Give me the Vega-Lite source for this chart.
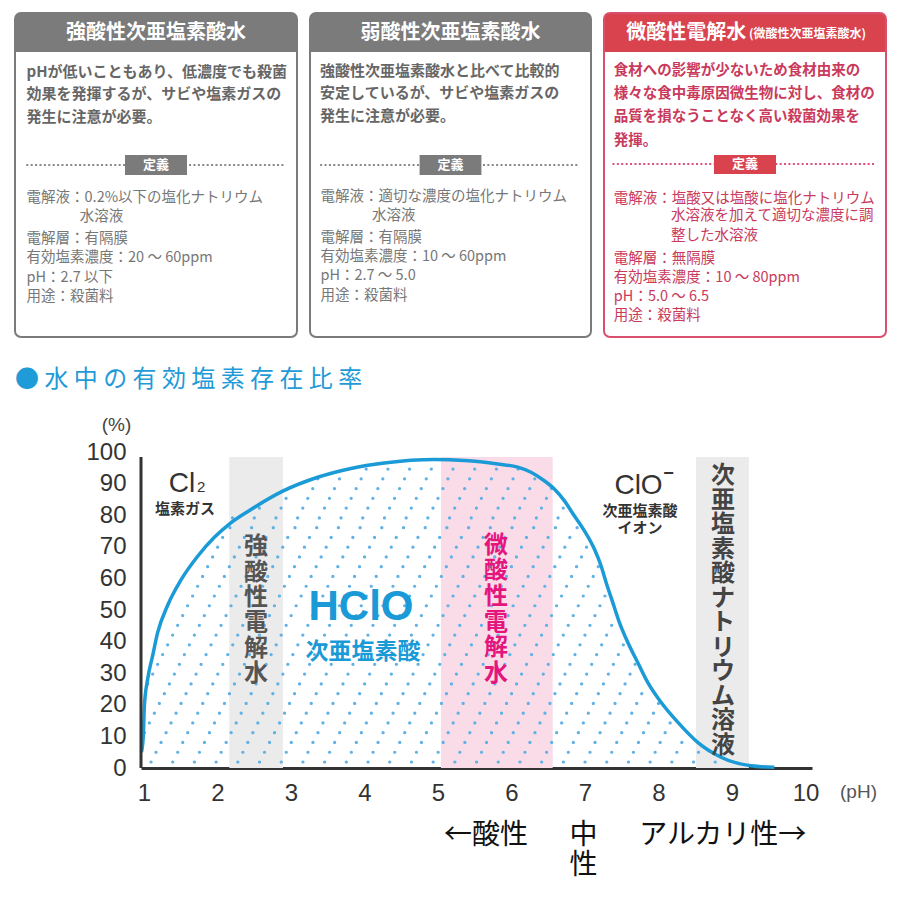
{
  "$schema": "https://vega.github.io/schema/vega-lite/v6.json",
  "padding": {"left": 14, "top": 12, "right": 0, "bottom": 0},
  "background": "white",
  "config": {"font": "Noto Sans CJK JP", "view": {"stroke": null}, "axis": {"grid": false, "labelOverlap": false, "labelFlush": false}, "axisY": {"labelOverlap": false}, "axisX": {"labelOverlap": false}},
  "datasets": {
    "boxtext": [
      {"box": 1, "part": "title", "text": "強酸性次亜塩素酸水"},
      {"box": 1, "part": "body", "text": "pHが低いこともあり、低濃度でも殺菌\n効果を発揮するが、サビや塩素ガスの\n発生に注意が必要。"},
      {"box": 1, "part": "tag", "text": "定義"},
      {"box": 1, "part": "def1", "text": "電解液：0.2%以下の塩化ナトリウム"},
      {"box": 1, "part": "cont", "text": "水溶液"},
      {"box": 1, "part": "def2", "text": "電解層：有隔膜\n有効塩素濃度：20 ～ 60ppm\npH：2.7 以下\n用途：殺菌料"},
      {"box": 2, "part": "title", "text": "弱酸性次亜塩素酸水"},
      {"box": 2, "part": "body", "text": "強酸性次亜塩素酸水と比べて比較的\n安定しているが、サビや塩素ガスの\n発生に注意が必要。"},
      {"box": 2, "part": "tag", "text": "定義"},
      {"box": 2, "part": "def1", "text": "電解液：適切な濃度の塩化ナトリウム"},
      {"box": 2, "part": "cont", "text": "水溶液"},
      {"box": 2, "part": "def2", "text": "電解層：有隔膜\n有効塩素濃度：10 ～ 60ppm\npH：2.7 ～ 5.0\n用途：殺菌料"},
      {"box": 3, "part": "title", "text": "微酸性電解水"},
      {"box": 3, "part": "subtitle", "text": "(微酸性次亜塩素酸水)"},
      {"box": 3, "part": "body", "text": "食材への影響が少ないため食材由来の\n様々な食中毒原因微生物に対し、食材の\n品質を損なうことなく高い殺菌効果を\n発揮。"},
      {"box": 3, "part": "tag", "text": "定義"},
      {"box": 3, "part": "def1", "text": "電解液：塩酸又は塩酸に塩化ナトリウム"},
      {"box": 3, "part": "cont", "text": "水溶液を加えて適切な濃度に調\n整した水溶液"},
      {"box": 3, "part": "def2", "text": "電解層：無隔膜\n有効塩素濃度：10 ～ 80ppm\npH：5.0 ～ 6.5\n用途：殺菌料"}
    ],
    "bands": [
      {"band": "強酸性電解水", "start": 2.16, "end": 2.89, "group": "gray"},
      {"band": "微酸性電解水", "start": 5.04, "end": 6.56, "group": "pink"},
      {"band": "次亜塩素酸ナトリウム溶液", "start": 8.51, "end": 9.23, "group": "gray"}
    ],
    "curve": [
      {"ph": 0.965, "pct": 5}, {"ph": 0.99, "pct": 10}, {"ph": 1.005, "pct": 19.7}, {"ph": 1.05, "pct": 28.2},
      {"ph": 1.117, "pct": 35.5}, {"ph": 1.186, "pct": 42.9}, {"ph": 1.322, "pct": 51.5}, {"ph": 1.503, "pct": 59.5},
      {"ph": 1.73, "pct": 67}, {"ph": 1.957, "pct": 73}, {"ph": 2.16, "pct": 77.2}, {"ph": 2.456, "pct": 81.8},
      {"ph": 2.887, "pct": 87.6}, {"ph": 3.363, "pct": 92}, {"ph": 3.816, "pct": 94.8}, {"ph": 4.27, "pct": 96.5},
      {"ph": 4.95, "pct": 97.6}, {"ph": 5.358, "pct": 97.3}, {"ph": 5.812, "pct": 96.2}, {"ph": 6.084, "pct": 95.2},
      {"ph": 6.265, "pct": 93.6}, {"ph": 6.446, "pct": 90.9}, {"ph": 6.582, "pct": 88.3}, {"ph": 6.718, "pct": 84.6},
      {"ph": 6.854, "pct": 79.8}, {"ph": 6.99, "pct": 75.1}, {"ph": 7.127, "pct": 69.3}, {"ph": 7.218, "pct": 64},
      {"ph": 7.286, "pct": 58.8}, {"ph": 7.377, "pct": 52.4}, {"ph": 7.467, "pct": 46.1}, {"ph": 7.581, "pct": 39.8},
      {"ph": 7.717, "pct": 33.4}, {"ph": 7.853, "pct": 27.1}, {"ph": 8.034, "pct": 20.8}, {"ph": 8.261, "pct": 14.5},
      {"ph": 8.533, "pct": 8.1}, {"ph": 8.85, "pct": 3.4}, {"ph": 9.259, "pct": 0.7}, {"ph": 9.576, "pct": 0.2}
    ],
    "dots": [
      {"level": 1.9, "from": 1.095, "to": 9.05},
      {"level": 4.99, "from": 1.163, "to": 8.71},
      {"level": 8.08, "from": 1.231, "to": 8.505},
      {"level": 11.17, "from": 1.004, "to": 8.37},
      {"level": 14.26, "from": 1.072, "to": 8.24},
      {"level": 17.35, "from": 1.14, "to": 8.128},
      {"level": 20.44, "from": 1.208, "to": 8.017},
      {"level": 23.53, "from": 1.276, "to": 7.926},
      {"level": 26.62, "from": 1.049, "to": 7.837},
      {"level": 29.71, "from": 1.117, "to": 7.767},
      {"level": 32.8, "from": 1.185, "to": 7.7},
      {"level": 35.89, "from": 1.253, "to": 7.634},
      {"level": 38.98, "from": 1.321, "to": 7.568},
      {"level": 42.07, "from": 1.389, "to": 7.51},
      {"level": 45.16, "from": 1.457, "to": 7.454},
      {"level": 48.25, "from": 1.525, "to": 7.406},
      {"level": 51.34, "from": 1.593, "to": 7.362},
      {"level": 54.43, "from": 1.661, "to": 7.318},
      {"level": 57.52, "from": 1.729, "to": 7.274},
      {"level": 60.61, "from": 1.797, "to": 7.232},
      {"level": 63.7, "from": 1.865, "to": 7.192},
      {"level": 66.79, "from": 1.933, "to": 7.14},
      {"level": 69.88, "from": 2.001, "to": 7.083},
      {"level": 72.97, "from": 2.069, "to": 7.01},
      {"level": 76.06, "from": 2.168, "to": 6.932},
      {"level": 79.15, "from": 2.204, "to": 6.843},
      {"level": 82.24, "from": 2.569, "to": 6.755},
      {"level": 85.33, "from": 2.932, "to": 6.661},
      {"level": 88.42, "from": 3.295, "to": 6.546},
      {"level": 91.51, "from": 3.363, "to": 6.375},
      {"level": 94.6, "from": 4.022, "to": 6.122}
    ],
    "labels": [
      {"role": "formula", "text": "Cl", "ph": 1.517, "pct": 89.9},
      {"role": "sub", "text": "2", "ph": 1.776, "pct": 88.8},
      {"role": "formula", "text": "ClO", "ph": 7.728, "pct": 89.3},
      {"role": "sup", "text": "−", "ph": 8.136, "pct": 93.0},
      {"role": "small", "text": "塩素ガス", "ph": 1.558, "pct": 82.0},
      {"role": "small", "text": "次亜塩素酸", "ph": 7.748, "pct": 81.4},
      {"role": "small", "text": "イオン", "ph": 7.748, "pct": 75.9},
      {"role": "vertical", "text": "強\n酸\n性\n電\n解\n水", "ph": 2.524, "pct": 69.9},
      {"role": "vlong", "text": "次\n亜\n塩\n素\n酸\nナ\nト\nリ\nウ\nム\n溶\n液", "ph": 8.878, "pct": 92.4},
      {"role": "pinkvert", "text": "微\n酸\n性\n電\n解\n水", "ph": 5.789, "pct": 70.3},
      {"role": "hclo", "text": "HClO", "ph": 3.952, "pct": 50.9},
      {"role": "hclojp", "text": "次亜塩素酸", "ph": 3.98, "pct": 36.7},
      {"role": "bottom", "text": "←酸性", "ph": 5.653, "pct": -21.5},
      {"role": "bottom", "text": "アルカリ性→", "ph": 8.873, "pct": -21.5},
      {"role": "bottomvert", "text": "中\n性", "ph": 6.98, "pct": -21.5}
    ]
  },
  "spacing": 30,
  "vconcat": [
    {
      "spacing": 11,
      "hconcat": [
        {
          "width": 282, "height": 324,
          "layer": [
            {"data": {"name": "boxtext"}, "transform": [{"filter": "datum.box == 1 && datum.part == 'title'"}],
             "mark": {"type": "rect", "color": "#7b7b7b", "cornerRadiusTopLeft": 6, "cornerRadiusTopRight": 6},
             "encoding": {"x": {"datum": 0, "type": "quantitative", "scale": {"domain": [0, 100], "nice": false, "zero": false}, "axis": null}, "x2": {"datum": 100},
                          "y": {"datum": 0, "type": "quantitative", "scale": {"domain": [0, 100], "nice": false, "zero": false, "reverse": true}, "axis": null}, "y2": {"datum": 12}}},
            {"data": {"name": "boxtext"}, "transform": [{"filter": "datum.box == 1 && datum.part == 'title'"}],
             "mark": {"type": "text", "color": "white", "fontSize": 20, "fontWeight": "bold", "align": "center", "baseline": "middle"},
             "encoding": {"x": {"datum": 50, "type": "quantitative"}, "y": {"datum": 6.2, "type": "quantitative"}, "text": {"field": "text"}}},
            {"data": {"name": "boxtext"}, "transform": [{"filter": "datum.box == 1 && datum.part == 'body'"}],
             "mark": {"type": "text", "color": "#666666", "fontSize": 15, "fontWeight": "bold", "align": "left", "baseline": "middle", "lineBreak": "\n", "lineHeight": 22.5},
             "encoding": {"x": {"datum": 4.1, "type": "quantitative"}, "y": {"datum": 18.2, "type": "quantitative"}, "text": {"field": "text"}}},
            {"data": {"name": "boxtext"}, "transform": [{"filter": "datum.box == 1 && datum.part == 'tag'"}],
             "mark": {"type": "rule", "color": "#888888", "strokeWidth": 2, "strokeDash": [2, 2.4]},
             "encoding": {"x": {"datum": 4, "type": "quantitative"}, "x2": {"datum": 96}, "y": {"datum": 46.9, "type": "quantitative"}}},
            {"data": {"name": "boxtext"}, "transform": [{"filter": "datum.box == 1 && datum.part == 'tag'"}],
             "mark": {"type": "rect", "color": "#7b7b7b"},
             "encoding": {"x": {"datum": 39, "type": "quantitative"}, "x2": {"datum": 61}, "y": {"datum": 43.8, "type": "quantitative"}, "y2": {"datum": 50}}},
            {"data": {"name": "boxtext"}, "transform": [{"filter": "datum.box == 1 && datum.part == 'tag'"}],
             "mark": {"type": "text", "color": "white", "fontSize": 13, "fontWeight": "bold", "align": "center", "baseline": "middle"},
             "encoding": {"x": {"datum": 50, "type": "quantitative"}, "y": {"datum": 46.9, "type": "quantitative"}, "text": {"field": "text"}}},
            {"data": {"name": "boxtext"}, "transform": [{"filter": "datum.box == 1 && datum.part == 'def1'"}],
             "mark": {"type": "text", "color": "#777777", "fontSize": 14.5, "align": "left", "baseline": "middle"},
             "encoding": {"x": {"datum": 4.1, "type": "quantitative"}, "y": {"datum": 57.1, "type": "quantitative"}, "text": {"field": "text"}}},
            {"data": {"name": "boxtext"}, "transform": [{"filter": "datum.box == 1 && datum.part == 'cont'"}],
             "mark": {"type": "text", "color": "#777777", "fontSize": 14.5, "align": "left", "baseline": "middle"},
             "encoding": {"x": {"datum": 23, "type": "quantitative"}, "y": {"datum": 63.0, "type": "quantitative"}, "text": {"field": "text"}}},
            {"data": {"name": "boxtext"}, "transform": [{"filter": "datum.box == 1 && datum.part == 'def2'"}],
             "mark": {"type": "text", "color": "#777777", "fontSize": 14.5, "align": "left", "baseline": "middle", "lineBreak": "\n", "lineHeight": 19.3},
             "encoding": {"x": {"datum": 4.1, "type": "quantitative"}, "y": {"datum": 69.8, "type": "quantitative"}, "text": {"field": "text"}}},
            {"data": {"name": "boxtext"}, "transform": [{"filter": "datum.box == 1 && datum.part == 'title'"}],
             "mark": {"type": "rect", "filled": false, "color": "#7b7b7b", "strokeWidth": 2, "cornerRadius": 6},
             "encoding": {"x": {"datum": 0, "type": "quantitative"}, "x2": {"datum": 100}, "y": {"datum": 0, "type": "quantitative"}, "y2": {"datum": 100}}}
          ]
        },
        {
          "width": 281, "height": 324,
          "layer": [
            {"data": {"name": "boxtext"}, "transform": [{"filter": "datum.box == 2 && datum.part == 'title'"}],
             "mark": {"type": "rect", "color": "#7b7b7b", "cornerRadiusTopLeft": 6, "cornerRadiusTopRight": 6},
             "encoding": {"x": {"datum": 0, "type": "quantitative", "scale": {"domain": [0, 100], "nice": false, "zero": false}, "axis": null}, "x2": {"datum": 100},
                          "y": {"datum": 0, "type": "quantitative", "scale": {"domain": [0, 100], "nice": false, "zero": false, "reverse": true}, "axis": null}, "y2": {"datum": 12}}},
            {"data": {"name": "boxtext"}, "transform": [{"filter": "datum.box == 2 && datum.part == 'title'"}],
             "mark": {"type": "text", "color": "white", "fontSize": 20, "fontWeight": "bold", "align": "center", "baseline": "middle"},
             "encoding": {"x": {"datum": 50, "type": "quantitative"}, "y": {"datum": 6.2, "type": "quantitative"}, "text": {"field": "text"}}},
            {"data": {"name": "boxtext"}, "transform": [{"filter": "datum.box == 2 && datum.part == 'body'"}],
             "mark": {"type": "text", "color": "#666666", "fontSize": 15, "fontWeight": "bold", "align": "left", "baseline": "middle", "lineBreak": "\n", "lineHeight": 22.5},
             "encoding": {"x": {"datum": 3.6, "type": "quantitative"}, "y": {"datum": 17.9, "type": "quantitative"}, "text": {"field": "text"}}},
            {"data": {"name": "boxtext"}, "transform": [{"filter": "datum.box == 2 && datum.part == 'tag'"}],
             "mark": {"type": "rule", "color": "#888888", "strokeWidth": 2, "strokeDash": [2, 2.4]},
             "encoding": {"x": {"datum": 3.6, "type": "quantitative"}, "x2": {"datum": 96}, "y": {"datum": 46.9, "type": "quantitative"}}},
            {"data": {"name": "boxtext"}, "transform": [{"filter": "datum.box == 2 && datum.part == 'tag'"}],
             "mark": {"type": "rect", "color": "#7b7b7b"},
             "encoding": {"x": {"datum": 39, "type": "quantitative"}, "x2": {"datum": 61}, "y": {"datum": 43.8, "type": "quantitative"}, "y2": {"datum": 50}}},
            {"data": {"name": "boxtext"}, "transform": [{"filter": "datum.box == 2 && datum.part == 'tag'"}],
             "mark": {"type": "text", "color": "white", "fontSize": 13, "fontWeight": "bold", "align": "center", "baseline": "middle"},
             "encoding": {"x": {"datum": 50, "type": "quantitative"}, "y": {"datum": 46.9, "type": "quantitative"}, "text": {"field": "text"}}},
            {"data": {"name": "boxtext"}, "transform": [{"filter": "datum.box == 2 && datum.part == 'def1'"}],
             "mark": {"type": "text", "color": "#777777", "fontSize": 14.5, "align": "left", "baseline": "middle"},
             "encoding": {"x": {"datum": 3.7, "type": "quantitative"}, "y": {"datum": 56.8, "type": "quantitative"}, "text": {"field": "text"}}},
            {"data": {"name": "boxtext"}, "transform": [{"filter": "datum.box == 2 && datum.part == 'cont'"}],
             "mark": {"type": "text", "color": "#777777", "fontSize": 14.5, "align": "left", "baseline": "middle"},
             "encoding": {"x": {"datum": 22.1, "type": "quantitative"}, "y": {"datum": 62.7, "type": "quantitative"}, "text": {"field": "text"}}},
            {"data": {"name": "boxtext"}, "transform": [{"filter": "datum.box == 2 && datum.part == 'def2'"}],
             "mark": {"type": "text", "color": "#777777", "fontSize": 14.5, "align": "left", "baseline": "middle", "lineBreak": "\n", "lineHeight": 19.3},
             "encoding": {"x": {"datum": 3.7, "type": "quantitative"}, "y": {"datum": 69.4, "type": "quantitative"}, "text": {"field": "text"}}},
            {"data": {"name": "boxtext"}, "transform": [{"filter": "datum.box == 2 && datum.part == 'title'"}],
             "mark": {"type": "rect", "filled": false, "color": "#7b7b7b", "strokeWidth": 2, "cornerRadius": 6},
             "encoding": {"x": {"datum": 0, "type": "quantitative"}, "x2": {"datum": 100}, "y": {"datum": 0, "type": "quantitative"}, "y2": {"datum": 100}}}
          ]
        },
        {
          "width": 282, "height": 324,
          "layer": [
            {"data": {"name": "boxtext"}, "transform": [{"filter": "datum.box == 3 && datum.part == 'title'"}],
             "mark": {"type": "rect", "color": "#d9434e", "cornerRadiusTopLeft": 6, "cornerRadiusTopRight": 6},
             "encoding": {"x": {"datum": 0, "type": "quantitative", "scale": {"domain": [0, 100], "nice": false, "zero": false}, "axis": null}, "x2": {"datum": 100},
                          "y": {"datum": 0, "type": "quantitative", "scale": {"domain": [0, 100], "nice": false, "zero": false, "reverse": true}, "axis": null}, "y2": {"datum": 12}}},
            {"data": {"name": "boxtext"}, "transform": [{"filter": "datum.box == 3 && datum.part == 'title'"}],
             "mark": {"type": "text", "color": "white", "fontSize": 20, "fontWeight": "bold", "align": "right", "baseline": "middle"},
             "encoding": {"x": {"datum": 50.4, "type": "quantitative"}, "y": {"datum": 6.2, "type": "quantitative"}, "text": {"field": "text"}}},
            {"data": {"name": "boxtext"}, "transform": [{"filter": "datum.box == 3 && datum.part == 'subtitle'"}],
             "mark": {"type": "text", "color": "white", "fontSize": 12, "fontWeight": "bold", "align": "left", "baseline": "middle"},
             "encoding": {"x": {"datum": 51.4, "type": "quantitative"}, "y": {"datum": 6.6, "type": "quantitative"}, "text": {"field": "text"}}},
            {"data": {"name": "boxtext"}, "transform": [{"filter": "datum.box == 3 && datum.part == 'body'"}],
             "mark": {"type": "text", "color": "#c93a5c", "fontSize": 14.5, "fontWeight": "bold", "align": "left", "baseline": "middle", "lineBreak": "\n", "lineHeight": 23.3},
             "encoding": {"x": {"datum": 3.5, "type": "quantitative"}, "y": {"datum": 17.8, "type": "quantitative"}, "text": {"field": "text"}}},
            {"data": {"name": "boxtext"}, "transform": [{"filter": "datum.box == 3 && datum.part == 'tag'"}],
             "mark": {"type": "rule", "color": "#d9507a", "strokeWidth": 2, "strokeDash": [2, 2.4]},
             "encoding": {"x": {"datum": 3, "type": "quantitative"}, "x2": {"datum": 96.5}, "y": {"datum": 46.6, "type": "quantitative"}}},
            {"data": {"name": "boxtext"}, "transform": [{"filter": "datum.box == 3 && datum.part == 'tag'"}],
             "mark": {"type": "rect", "color": "#d9434e"},
             "encoding": {"x": {"datum": 39, "type": "quantitative"}, "x2": {"datum": 61}, "y": {"datum": 43.8, "type": "quantitative"}, "y2": {"datum": 49.7}}},
            {"data": {"name": "boxtext"}, "transform": [{"filter": "datum.box == 3 && datum.part == 'tag'"}],
             "mark": {"type": "text", "color": "white", "fontSize": 13, "fontWeight": "bold", "align": "center", "baseline": "middle"},
             "encoding": {"x": {"datum": 50, "type": "quantitative"}, "y": {"datum": 46.7, "type": "quantitative"}, "text": {"field": "text"}}},
            {"data": {"name": "boxtext"}, "transform": [{"filter": "datum.box == 3 && datum.part == 'def1'"}],
             "mark": {"type": "text", "color": "#c93a5c", "fontSize": 14.5, "align": "left", "baseline": "middle"},
             "encoding": {"x": {"datum": 3.5, "type": "quantitative"}, "y": {"datum": 57.4, "type": "quantitative"}, "text": {"field": "text"}}},
            {"data": {"name": "boxtext"}, "transform": [{"filter": "datum.box == 3 && datum.part == 'cont'"}],
             "mark": {"type": "text", "color": "#c93a5c", "fontSize": 14.5, "align": "left", "baseline": "middle", "lineBreak": "\n", "lineHeight": 20},
             "encoding": {"x": {"datum": 23.8, "type": "quantitative"}, "y": {"datum": 62.7, "type": "quantitative"}, "text": {"field": "text"}}},
            {"data": {"name": "boxtext"}, "transform": [{"filter": "datum.box == 3 && datum.part == 'def2'"}],
             "mark": {"type": "text", "color": "#c93a5c", "fontSize": 14.5, "align": "left", "baseline": "middle", "lineBreak": "\n", "lineHeight": 19},
             "encoding": {"x": {"datum": 3.5, "type": "quantitative"}, "y": {"datum": 75.9, "type": "quantitative"}, "text": {"field": "text"}}},
            {"data": {"name": "boxtext"}, "transform": [{"filter": "datum.box == 3 && datum.part == 'title'"}],
             "mark": {"type": "rect", "filled": false, "color": "#d9506e", "strokeWidth": 2, "cornerRadius": 6},
             "encoding": {"x": {"datum": 0, "type": "quantitative"}, "x2": {"datum": 100}, "y": {"datum": 0, "type": "quantitative"}, "y2": {"datum": 100}}}
          ]
        }
      ]
    },
    {
      "bounds": "flush",
      "spacing": 0,
      "hconcat": [
        {
          "width": 126, "height": 316,
          "data": {"values": [{"note": ""}]},
          "mark": {"type": "text"},
          "encoding": {"text": {"field": "note"}}
        },
        {
          "width": 671, "height": 316,
          "title": {"text": "● 水 中 の 有 効 塩 素 存 在 比 率", "anchor": "start", "frame": "group", "dx": -126, "offset": 23, "fontSize": 24, "fontWeight": "normal", "color": "#1f9bd7", "font": "Noto Sans CJK JP"},
          "layer": [
            {"data": {"name": "bands"},
             "mark": {"type": "rect"},
             "encoding": {
               "x": {"field": "start", "type": "quantitative", "scale": {"domain": [0.959, 10.088], "nice": false, "zero": false},
                     "axis": {"values": [1, 2, 3, 4, 5, 6, 7, 8, 9, 10], "format": "d", "title": "(pH)", "titleX": 717, "titleY": 23, "titleAlign": "center", "titleBaseline": "middle", "titleFontSize": 19, "titleFontWeight": "normal", "titleColor": "#555555", "titleFont": "Liberation Sans",
                              "labelFontSize": 24, "labelFont": "Liberation Sans", "labelColor": "#333333", "labelPadding": 13, "ticks": false, "tickSize": 0, "domain": true, "domainColor": "#333333", "domainWidth": 3, "grid": false, "labelFlush": false, "labelOverlap": false}},
               "x2": {"field": "end"},
               "y": {"datum": 0, "type": "quantitative", "scale": {"domain": [0, 100], "nice": false, "zero": false}},
               "y2": {"datum": 98.4},
               "color": {"field": "group", "type": "nominal", "scale": {"domain": ["gray", "pink"], "range": ["#ebebeb", "#f9dce8"]}, "legend": null}
             }},
            {"data": {"name": "dots"},
             "mark": {"type": "rule", "color": "#5fb1e6", "strokeWidth": 3.2, "strokeCap": "round", "strokeDash": [0.1, 21.6]},
             "encoding": {
               "x": {"field": "from", "type": "quantitative"},
               "x2": {"field": "to"},
               "y": {"field": "level", "type": "quantitative"}
             }},
            {"data": {"name": "curve"},
             "mark": {"type": "line", "color": "#1a9ad6", "strokeWidth": 3.5, "interpolate": "monotone"},
             "encoding": {
               "x": {"field": "ph", "type": "quantitative"},
               "y": {"field": "pct", "type": "quantitative", "scale": {"domain": [0, 100], "nice": false, "zero": false},
                     "axis": {"values": [0, 10, 20, 30, 40, 50, 60, 70, 80, 90, 100], "tickCount": 11, "format": "d", "title": "(%)", "titleAngle": 0, "titleX": -25, "titleY": -28, "titleAlign": "center", "titleBaseline": "middle", "titleFontSize": 19, "titleFontWeight": "normal", "titleColor": "#444444", "titleFont": "Liberation Sans",
                              "labelFontSize": 24, "labelFont": "Liberation Sans", "labelColor": "#333333", "labelPadding": 15, "ticks": false, "tickSize": 0, "domain": false, "grid": false, "labelFlush": false, "labelOverlap": false}}
             }},
            {"data": {"values": [{"axis": "y"}]},
             "mark": {"type": "rule", "color": "#333333", "strokeWidth": 3},
             "encoding": {
               "x": {"datum": 0.959, "type": "quantitative"},
               "y": {"datum": 0, "type": "quantitative"},
               "y2": {"datum": 98.4}
             }},
            {"data": {"name": "labels"}, "transform": [{"filter": "datum.role == 'formula'"}],
             "mark": {"type": "text", "font": "Liberation Sans", "fontSize": 28, "color": "#333333", "align": "center", "baseline": "middle"},
             "encoding": {"x": {"field": "ph", "type": "quantitative"}, "y": {"field": "pct", "type": "quantitative"}, "text": {"field": "text"}}},
            {"data": {"name": "labels"}, "transform": [{"filter": "datum.role == 'sub'"}],
             "mark": {"type": "text", "font": "Liberation Sans", "fontSize": 15, "color": "#333333", "align": "center", "baseline": "middle"},
             "encoding": {"x": {"field": "ph", "type": "quantitative"}, "y": {"field": "pct", "type": "quantitative"}, "text": {"field": "text"}}},
            {"data": {"name": "labels"}, "transform": [{"filter": "datum.role == 'sup'"}],
             "mark": {"type": "text", "font": "Liberation Sans", "fontSize": 18, "fontWeight": "bold", "color": "#333333", "align": "center", "baseline": "middle"},
             "encoding": {"x": {"field": "ph", "type": "quantitative"}, "y": {"field": "pct", "type": "quantitative"}, "text": {"field": "text"}}},
            {"data": {"name": "labels"}, "transform": [{"filter": "datum.role == 'small'"}],
             "mark": {"type": "text", "fontSize": 15, "fontWeight": "bold", "color": "#333333", "align": "center", "baseline": "middle"},
             "encoding": {"x": {"field": "ph", "type": "quantitative"}, "y": {"field": "pct", "type": "quantitative"}, "text": {"field": "text"}}},
            {"data": {"name": "labels"}, "transform": [{"filter": "datum.role == 'vertical'"}],
             "mark": {"type": "text", "fontSize": 24, "fontWeight": "bold", "color": "#555555", "align": "center", "baseline": "middle", "lineBreak": "\n", "lineHeight": 25.4},
             "encoding": {"x": {"field": "ph", "type": "quantitative"}, "y": {"field": "pct", "type": "quantitative"}, "text": {"field": "text"}}},
            {"data": {"name": "labels"}, "transform": [{"filter": "datum.role == 'vlong'"}],
             "mark": {"type": "text", "fontSize": 24, "fontWeight": "bold", "color": "#444444", "align": "center", "baseline": "middle", "lineBreak": "\n", "lineHeight": 24.5},
             "encoding": {"x": {"field": "ph", "type": "quantitative"}, "y": {"field": "pct", "type": "quantitative"}, "text": {"field": "text"}}},
            {"data": {"name": "labels"}, "transform": [{"filter": "datum.role == 'pinkvert'"}],
             "mark": {"type": "text", "fontSize": 24, "fontWeight": "bold", "color": "#e4157d", "align": "center", "baseline": "middle", "lineBreak": "\n", "lineHeight": 25.6},
             "encoding": {"x": {"field": "ph", "type": "quantitative"}, "y": {"field": "pct", "type": "quantitative"}, "text": {"field": "text"}}},
            {"data": {"name": "labels"}, "transform": [{"filter": "datum.role == 'hclo'"}],
             "mark": {"type": "text", "font": "Liberation Sans", "fontSize": 42, "fontWeight": "bold", "color": "#1a9ad6", "align": "center", "baseline": "middle"},
             "encoding": {"x": {"field": "ph", "type": "quantitative"}, "y": {"field": "pct", "type": "quantitative"}, "text": {"field": "text"}}},
            {"data": {"name": "labels"}, "transform": [{"filter": "datum.role == 'hclojp'"}],
             "mark": {"type": "text", "fontSize": 23, "fontWeight": "bold", "color": "#1a9ad6", "align": "center", "baseline": "middle"},
             "encoding": {"x": {"field": "ph", "type": "quantitative"}, "y": {"field": "pct", "type": "quantitative"}, "text": {"field": "text"}}},
            {"data": {"name": "labels"}, "transform": [{"filter": "datum.role == 'bottom'"}],
             "mark": {"type": "text", "fontSize": 28, "color": "#111111", "align": "center", "baseline": "middle"},
             "encoding": {"x": {"field": "ph", "type": "quantitative"}, "y": {"field": "pct", "type": "quantitative"}, "text": {"field": "text"}}},
            {"data": {"name": "labels"}, "transform": [{"filter": "datum.role == 'bottomvert'"}],
             "mark": {"type": "text", "fontSize": 28, "color": "#111111", "align": "center", "baseline": "middle", "lineBreak": "\n", "lineHeight": 30},
             "encoding": {"x": {"field": "ph", "type": "quantitative"}, "y": {"field": "pct", "type": "quantitative"}, "text": {"field": "text"}}}
          ]
        }
      ]
    }
  ]
}
